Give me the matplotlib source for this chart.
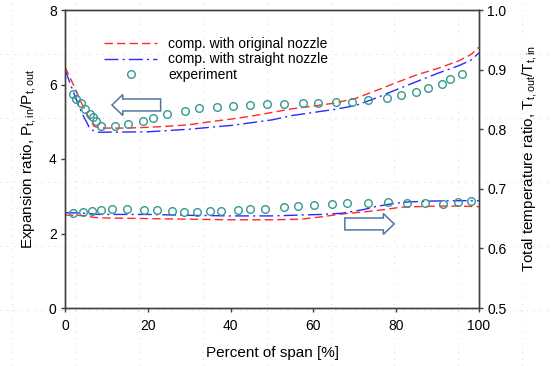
import numpy as np
import matplotlib
matplotlib.use("Agg")
import matplotlib.pyplot as plt
from matplotlib.lines import Line2D

plt.rcParams['font.family'] = ['Liberation Sans', 'DejaVu Sans']
plt.rcParams['mathtext.fontset'] = 'custom'
plt.rcParams['mathtext.rm'] = 'Liberation Sans'

# Expansion ratio (left axis)
span_pr_orig = [0, 2, 4, 6, 7, 8, 10, 15, 20, 25, 30, 35, 40, 45, 50, 55, 60,
                65, 70, 75, 80, 85, 90, 95, 98, 100]
pr_orig = [6.47, 6.0, 5.5, 5.05, 4.88, 4.84, 4.83, 4.83, 4.85, 4.88, 4.92, 5.0,
           5.07, 5.15, 5.25, 5.35, 5.42, 5.5, 5.62, 5.83, 6.05, 6.26, 6.43,
           6.63, 6.8, 7.0]
span_pr_str = [0, 2, 4, 6, 7, 8, 10, 20, 30, 40, 50, 55, 60, 65, 70, 75, 80,
               85, 90, 95, 98, 100]
pr_str = [6.4, 5.8, 5.25, 4.82, 4.75, 4.72, 4.72, 4.73, 4.8, 4.9, 5.05, 5.17,
          5.25, 5.33, 5.43, 5.63, 5.86, 6.08, 6.3, 6.5, 6.65, 6.85]
span_pr_exp = [2.0, 2.7, 3.8, 4.8, 6.0, 6.8, 7.5, 8.6, 12.1, 15.2, 18.8, 21.3,
               24.6, 29.0, 32.4, 36.7, 40.6, 44.7, 48.8, 52.9, 57.5, 61.1,
               65.5, 69.3, 73.2, 77.8, 81.2, 84.8, 87.7, 91.1, 93.0, 95.9]
pr_exp = [5.75, 5.62, 5.49, 5.34, 5.22, 5.12, 5.03, 4.88, 4.89, 4.94, 5.03,
          5.1, 5.2, 5.29, 5.36, 5.4, 5.43, 5.46, 5.48, 5.48, 5.5, 5.5, 5.52,
          5.54, 5.58, 5.63, 5.72, 5.81, 5.9, 6.01, 6.14, 6.28]

# Total temperature ratio (right axis)
span_tr_orig = [0, 5, 7, 10, 20, 30, 40, 50, 57, 62, 67, 72, 77, 81, 85, 90,
                95, 100]
tr_orig = [0.656, 0.655, 0.652, 0.651, 0.650, 0.649, 0.648, 0.648, 0.649,
           0.653, 0.658, 0.661, 0.665, 0.669, 0.670, 0.671, 0.671, 0.670]
span_tr_str = [0, 5, 8, 20, 30, 40, 50, 57, 62, 67, 72, 75, 79, 83, 89, 95, 100]
tr_str = [0.660, 0.659, 0.657, 0.657, 0.6555, 0.6545, 0.6545, 0.656, 0.657,
          0.659, 0.665, 0.670, 0.675, 0.678, 0.6795, 0.680, 0.680]
span_tr_exp = [2.0, 4.3, 6.6, 8.8, 11.3, 14.9, 19.1, 22.3, 25.8, 28.7, 32.0,
               35.0, 37.7, 41.7, 44.8, 48.3, 52.9, 56.4, 60.1, 64.4, 68.0,
               73.3, 78.1, 82.5, 87.0, 91.4, 94.9, 98.0]
tr_exp = [0.659, 0.6616, 0.6633, 0.6644, 0.6656, 0.6656, 0.6644, 0.6639,
          0.6622, 0.6616, 0.6616, 0.6622, 0.6633, 0.6644, 0.6656, 0.6666,
          0.67, 0.6711, 0.6728, 0.6745, 0.6757, 0.6767, 0.6773, 0.6767,
          0.6757, 0.6745, 0.6773, 0.6795]

red = '#ff2a2a'
blue = '#2a2aff'
teal = '#35988f'
gridc = '#404040'

fig = plt.figure(figsize=(5.52, 3.66), dpi=100)
fig.patch.set_facecolor('white')

# faint dotted drawing grid behind everything
for gx in np.arange(11.5, 552, 63.8):
    fig.add_artist(Line2D([gx / 552, gx / 552], [0, 1], transform=fig.transFigure,
                          color='#cccccc', lw=0.6, ls=(0, (1.2, 7)), zorder=-1))
for gy in np.arange(53.5, 366, 64.0):
    fig.add_artist(Line2D([0, 1], [1 - gy / 366, 1 - gy / 366], transform=fig.transFigure,
                          color='#cccccc', lw=0.6, ls=(0, (1.2, 7)), zorder=-1))

ax = fig.add_axes([65 / 552, 1 - 308 / 366, 414 / 552, 298 / 366])
ax.set_facecolor('none')
ax2 = ax.twinx()
ax2.set_facecolor('none')

l1, = ax.plot(span_pr_orig, pr_orig, color=red, lw=1.0, ls=(0, (6, 3)))
l2, = ax.plot(span_pr_str, pr_str, color=blue, lw=1.0, ls=(0, (10, 3, 1.5, 3)))
l3, = ax.plot(span_pr_exp, pr_exp, ls='none', marker='o', ms=5.5, mfc='none',
              mec=teal, mew=1.0)

ax2.plot(span_tr_orig, tr_orig, color=red, lw=1.0, ls=(0, (6, 3)))
ax2.plot(span_tr_str, tr_str, color=blue, lw=1.0, ls=(0, (10, 3, 1.5, 3)))
ax2.plot(span_tr_exp, tr_exp, ls='none', marker='o', ms=5.5, mfc='none',
         mec=teal, mew=1.0)

# hollow arrows pointing to the relevant axis
ax.arrow(23.1, 5.45, -11.75, 0, width=0.32, head_width=0.56, head_length=2.6,
         length_includes_head=True, fc='white', ec='#4f76a0', lw=1.1, zorder=5)
ax2.arrow(67.6, 0.641, 11.9, 0, width=0.02, head_width=0.035, head_length=2.6,
          length_includes_head=True, fc='white', ec='#4f76a0', lw=1.1, zorder=5)

ax.set_xlim(0, 100)
ax.set_ylim(0, 8)
ax2.set_ylim(0.5, 1.0)
ax.set_xticks([0, 20, 40, 60, 80, 100])
ax.set_yticks([0, 2, 4, 6, 8])
ax2.set_yticks([0.5, 0.6, 0.7, 0.8, 0.9, 1.0])
ax2.set_yticklabels(['0.5', '0.6', '0.7', '0.8', '0.9', '1.0'])

for a in (ax, ax2):
    for s in a.spines.values():
        s.set_color(gridc)
        s.set_linewidth(1.0)
    a.tick_params(direction='out', length=3, width=1.0, color=gridc,
                  labelsize=10, pad=3)
ax.tick_params(axis='x', pad=5)

ax.set_xlabel('Percent of span [%]', fontsize=11, labelpad=9)
ax.set_ylabel(r'Expansion ratio, P$_\mathregular{t,in}$/P$_\mathregular{t,out}$',
              fontsize=11, labelpad=7)
ax2.set_ylabel(r'Total temperature ratio, T$_\mathregular{t,out}$/T$_\mathregular{t,in}$',
               fontsize=11, labelpad=10)

ax.legend([l1, l2, l3], ['comp. with original nozzle', 'comp. with straight nozzle',
                         'experiment'],
          loc='upper left', bbox_to_anchor=(0.095, 0.91), frameon=False,
          fontsize=10, handlelength=3.8, handletextpad=0.8, labelspacing=0.12,
          borderpad=0, borderaxespad=0)

fig.savefig('out.png', dpi=100)
